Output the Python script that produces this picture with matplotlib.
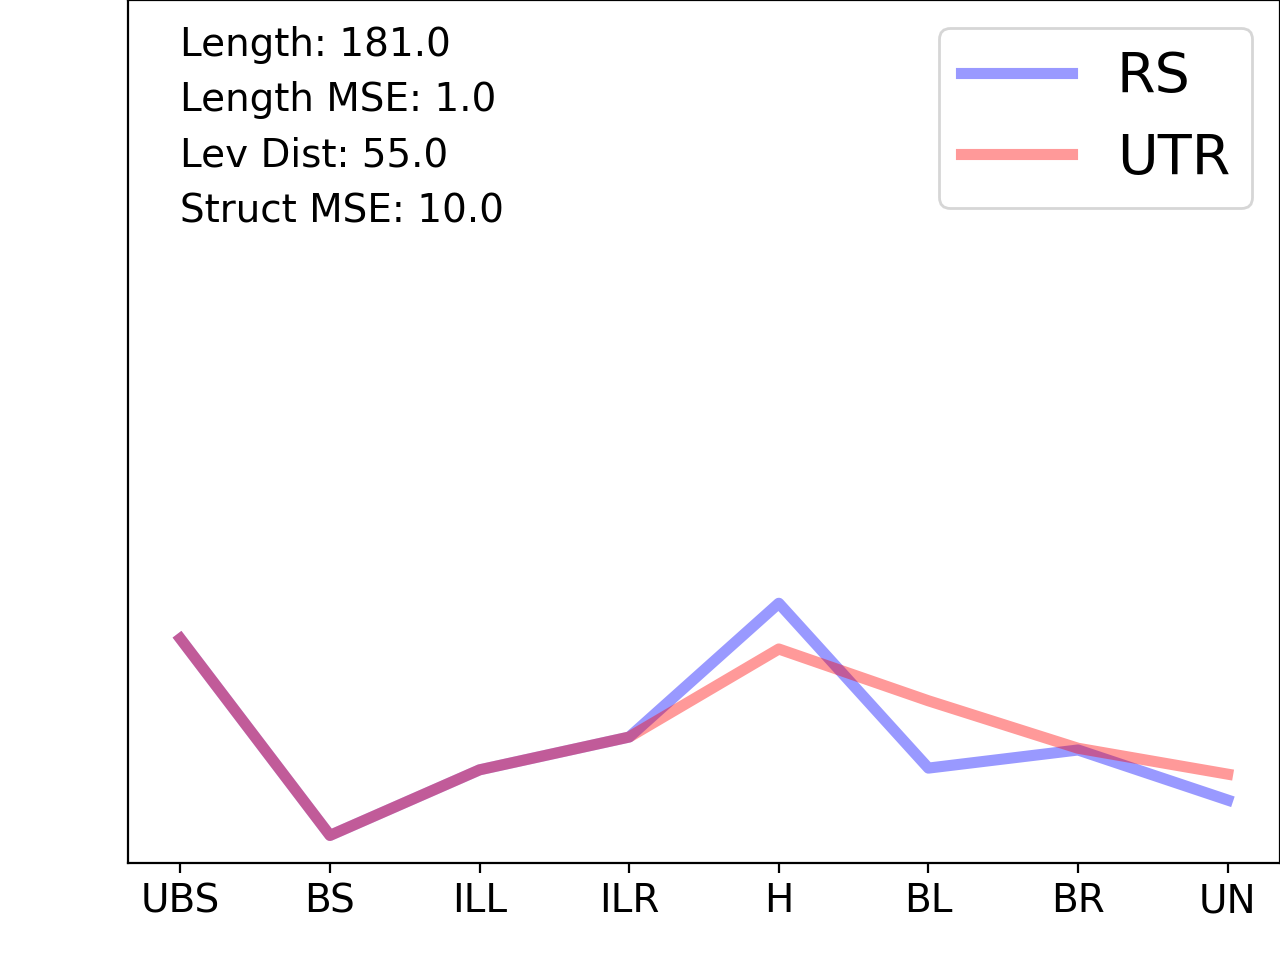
import matplotlib.pyplot as plt
import matplotlib.transforms as mtransforms

categories = ['UBS', 'BS', 'ILL', 'ILR', 'H', 'BL', 'BR', 'UN']
rs_values = [0.260, 0.032, 0.108, 0.146, 0.301, 0.110, 0.131, 0.073]
utr_values = [0.260, 0.032, 0.108, 0.146, 0.248, 0.188, 0.133, 0.103]
stats = ['Length: 181.0', 'Length MSE: 1.0', 'Lev Dist: 55.0', 'Struct MSE: 10.0']

fig = plt.figure(figsize=(6.4, 4.8), dpi=200)
ax = fig.add_axes([0.1, 0.101, 0.9, 0.899])

x = range(len(categories))
ax.plot(x, rs_values, color='blue', alpha=0.4, linewidth=4, label='RS')
ax.plot(x, utr_values, color='red', alpha=0.4, linewidth=4, label='UTR')

ax.set_ylim(0, 1)
ax.set_yticks([])
ax.set_xticks(list(x))
ax.set_xticklabels(categories, fontsize=14)

trans = mtransforms.blended_transform_factory(ax.transData, ax.transAxes)
for i, s in enumerate(stats):
    ax.text(0, 0.948 - i * 0.0643, s, transform=trans, fontsize=14,
            ha='left', va='center')

ax.legend(loc='upper right', fontsize=20)

fig.savefig('out.png', dpi=200)
